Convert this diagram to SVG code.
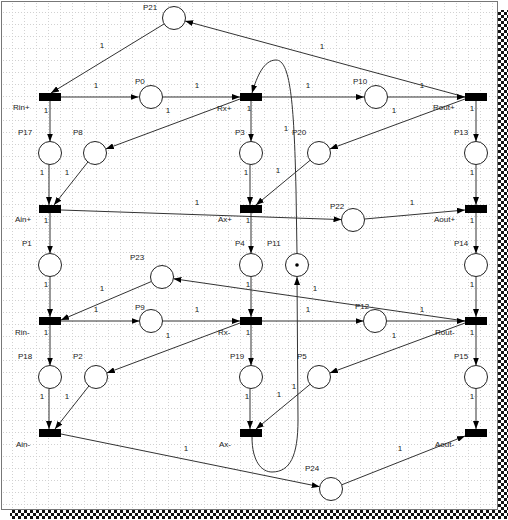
<svg xmlns="http://www.w3.org/2000/svg" width="508" height="520" viewBox="0 0 508 520">
<style>
.pl{fill:#fff;stroke:#222;stroke-width:1}
.tr{fill:#000}
.e{fill:none;stroke:#333;stroke-width:1;marker-end:url(#ah)}
.t{font-family:"Liberation Sans",Arial,sans-serif;font-size:8px;fill:#222}
.w{font-family:"Liberation Sans",Arial,sans-serif;font-size:8px;fill:#222;text-anchor:middle}
</style>
<defs>
<marker id="ah" viewBox="0 0 8 6" markerWidth="8" markerHeight="6" refX="8" refY="3" orient="auto" markerUnits="userSpaceOnUse">
<path d="M0,0 L8,3 L0,6 z" fill="#000"/>
</marker>
<pattern id="grid" width="12" height="12" patternUnits="userSpaceOnUse">
<path d="M0,0.5 H12 M0.5,0 V12" stroke="#bdbdbd" stroke-width="1" stroke-dasharray="1 2" fill="none"/>
</pattern>
<pattern id="chk" width="6" height="6" patternUnits="userSpaceOnUse">
<rect width="6" height="6" fill="#fff"/>
<rect x="0" y="0" width="3" height="3" fill="#111"/>
<rect x="3" y="3" width="3" height="3" fill="#111"/>
</pattern>
</defs>
<g id="background">
<rect x="0" y="0" width="508" height="520" fill="#fff"/>
<rect x="498" y="10" width="10" height="509" fill="url(#chk)"/>
<rect x="10" y="510" width="498" height="9" fill="url(#chk)"/>
<rect x="1.5" y="1.5" width="496" height="508" fill="#fff" stroke="#777" stroke-width="1"/>
<rect x="3" y="3" width="493" height="505" fill="url(#grid)" opacity="0.7"/>
</g>
<g id="connectors">
<line class="e" x1="164.2" y1="23.9" x2="51" y2="93"/>
<line class="e" x1="465" y1="97" x2="185.1" y2="21"/>
<line class="e" x1="61" y1="97" x2="138.5" y2="97"/>
<line class="e" x1="162.5" y1="97" x2="240" y2="97"/>
<line class="e" x1="240" y1="99" x2="105.8" y2="149"/>
<line class="e" x1="50" y1="101" x2="50" y2="141.5"/>
<line class="e" x1="49" y1="164.5" x2="49" y2="205"/>
<line class="e" x1="87.9" y1="162" x2="54" y2="205"/>
<line class="e" x1="262" y1="97" x2="364" y2="97"/>
<line class="e" x1="387.5" y1="97" x2="465" y2="97"/>
<line class="e" x1="465" y1="99" x2="329.8" y2="149"/>
<line class="e" x1="251" y1="101" x2="251" y2="141.5"/>
<line class="e" x1="250" y1="164.5" x2="250" y2="205"/>
<line class="e" x1="310.1" y1="160.3" x2="256" y2="205"/>
<line class="e" x1="476" y1="101" x2="476" y2="141.5"/>
<line class="e" x1="476" y1="164.5" x2="476" y2="205"/>
<path class="e" d="M297,253.5 L296,190 C294,100 290,60 276,60 C264,60 257,76 252,93"/>
<line class="e" x1="61" y1="210" x2="341.5" y2="219.6"/>
<line class="e" x1="364.5" y1="219" x2="465" y2="210"/>
<line class="e" x1="50" y1="213" x2="50" y2="253.5"/>
<line class="e" x1="50" y1="276.5" x2="50" y2="317"/>
<line class="e" x1="251" y1="213" x2="251" y2="253.5"/>
<line class="e" x1="251" y1="276.5" x2="251" y2="317"/>
<line class="e" x1="476" y1="213" x2="476" y2="253.5"/>
<line class="e" x1="476" y1="276.5" x2="476" y2="317"/>
<line class="e" x1="465" y1="321" x2="173.4" y2="278.7"/>
<line class="e" x1="151.4" y1="281.5" x2="61" y2="320"/>
<line class="e" x1="61" y1="321" x2="139.5" y2="321"/>
<line class="e" x1="162.5" y1="321" x2="240" y2="321"/>
<line class="e" x1="240" y1="323" x2="106.8" y2="373"/>
<line class="e" x1="262" y1="321" x2="363.5" y2="321"/>
<line class="e" x1="386.5" y1="321" x2="465" y2="321"/>
<line class="e" x1="465" y1="323" x2="329.8" y2="373"/>
<line class="e" x1="50" y1="325" x2="50" y2="365.5"/>
<line class="e" x1="251" y1="325" x2="251" y2="365.5"/>
<line class="e" x1="476" y1="325" x2="476" y2="365.5"/>
<line class="e" x1="49" y1="388.5" x2="49" y2="429"/>
<line class="e" x1="88.9" y1="386" x2="55" y2="429"/>
<line class="e" x1="250" y1="388.5" x2="250" y2="429"/>
<line class="e" x1="310.1" y1="384.3" x2="256" y2="429"/>
<line class="e" x1="476" y1="388.5" x2="476" y2="429"/>
<path class="e" d="M252,437 C252,462 262,472 272,472 C290,472 298,456 298,420 L297,277"/>
<line class="e" x1="61" y1="434" x2="319.7" y2="486.7"/>
<line class="e" x1="341.7" y1="484.8" x2="465" y2="436"/>
<g id="weights">
<text class="w" x="102" y="48">1</text>
<text class="w" x="322" y="49">1</text>
<text class="w" x="96" y="88">1</text>
<text class="w" x="197" y="88">1</text>
<text class="w" x="168" y="113">1</text>
<text class="w" x="46" y="113">1</text>
<text class="w" x="249" y="111">1</text>
<text class="w" x="42" y="175">1</text>
<text class="w" x="67" y="175">1</text>
<text class="w" x="308" y="88">1</text>
<text class="w" x="422" y="88">1</text>
<text class="w" x="394" y="113">1</text>
<text class="w" x="472" y="111">1</text>
<text class="w" x="472" y="175">1</text>
<text class="w" x="278" y="173">1</text>
<text class="w" x="246" y="175">1</text>
<text class="w" x="286" y="131">1</text>
<text class="w" x="197" y="205">1</text>
<text class="w" x="412" y="205">1</text>
<text class="w" x="46" y="223">1</text>
<text class="w" x="248" y="223">1</text>
<text class="w" x="472" y="223">1</text>
<text class="w" x="46" y="287">1</text>
<text class="w" x="248" y="287">1</text>
<text class="w" x="472" y="287">1</text>
<text class="w" x="315" y="291">1</text>
<text class="w" x="102" y="291">1</text>
<text class="w" x="96" y="312">1</text>
<text class="w" x="197" y="312">1</text>
<text class="w" x="168" y="338">1</text>
<text class="w" x="308" y="312">1</text>
<text class="w" x="422" y="312">1</text>
<text class="w" x="394" y="338">1</text>
<text class="w" x="46" y="335">1</text>
<text class="w" x="248" y="335">1</text>
<text class="w" x="472" y="335">1</text>
<text class="w" x="42" y="399">1</text>
<text class="w" x="67" y="399">1</text>
<text class="w" x="247" y="399">1</text>
<text class="w" x="279" y="397">1</text>
<text class="w" x="472" y="399">1</text>
<text class="w" x="294" y="389">1</text>
<text class="w" x="186" y="451">1</text>
<text class="w" x="400" y="451">1</text>
</g>
</g>
<g id="Rin_plus"><rect class="tr" x="39" y="93" width="22" height="8"/><text class="t" x="13" y="110">Rin+</text></g>
<g id="Rx_plus"><rect class="tr" x="240" y="93" width="22" height="8"/><text class="t" x="217" y="111">Rx+</text></g>
<g id="Rout_plus"><rect class="tr" x="465" y="93" width="22" height="8"/><text class="t" x="433" y="110">Rout+</text></g>
<g id="Ain_plus"><rect class="tr" x="39" y="205" width="22" height="8"/><text class="t" x="15" y="222">Ain+</text></g>
<g id="Ax_plus"><rect class="tr" x="240" y="205" width="22" height="8"/><text class="t" x="218" y="222">Ax+</text></g>
<g id="Aout_plus"><rect class="tr" x="465" y="205" width="22" height="8"/><text class="t" x="434" y="222">Aout+</text></g>
<g id="Rin_minus"><rect class="tr" x="39" y="317" width="22" height="8"/><text class="t" x="15" y="335">Rin-</text></g>
<g id="Rx_minus"><rect class="tr" x="240" y="317" width="22" height="8"/><text class="t" x="218" y="335">Rx-</text></g>
<g id="Rout_minus"><rect class="tr" x="465" y="317" width="22" height="8"/><text class="t" x="435" y="335">Rout-</text></g>
<g id="Ain_minus"><rect class="tr" x="39" y="429" width="22" height="8"/><text class="t" x="16" y="447">Ain-</text></g>
<g id="Ax_minus"><rect class="tr" x="240" y="429" width="22" height="8"/><text class="t" x="219" y="447">Ax-</text></g>
<g id="Aout_minus"><rect class="tr" x="465" y="429" width="22" height="8"/><text class="t" x="435" y="447">Aout-</text></g>
<g id="P21"><circle class="pl" cx="174" cy="18" r="11.5"/><text class="t" x="143" y="10">P21</text></g>
<g id="P0"><circle class="pl" cx="151" cy="97" r="11.5"/><text class="t" x="135" y="84">P0</text></g>
<g id="P10"><circle class="pl" cx="376" cy="97" r="11.5"/><text class="t" x="353" y="84">P10</text></g>
<g id="P17"><circle class="pl" cx="50" cy="153" r="11.5"/><text class="t" x="18" y="135">P17</text></g>
<g id="P8"><circle class="pl" cx="95" cy="153" r="11.5"/><text class="t" x="73" y="135">P8</text></g>
<g id="P3"><circle class="pl" cx="251" cy="153" r="11.5"/><text class="t" x="235" y="135">P3</text></g>
<g id="P20"><circle class="pl" cx="319" cy="153" r="11.5"/><text class="t" x="292" y="135">P20</text></g>
<g id="P13"><circle class="pl" cx="476" cy="153" r="11.5"/><text class="t" x="454" y="135">P13</text></g>
<g id="P22"><circle class="pl" cx="353" cy="220" r="11.5"/><text class="t" x="330" y="209">P22</text></g>
<g id="P1"><circle class="pl" cx="50" cy="265" r="11.5"/><text class="t" x="22" y="246">P1</text></g>
<g id="P4"><circle class="pl" cx="251" cy="265" r="11.5"/><text class="t" x="235" y="246">P4</text></g>
<g id="P11"><circle class="pl" cx="297" cy="265" r="11.5"/><circle cx="297" cy="265" r="1.8" fill="#000"/><text class="t" x="267" y="246">P11</text></g>
<g id="P14"><circle class="pl" cx="476" cy="265" r="11.5"/><text class="t" x="454" y="246">P14</text></g>
<g id="P23"><circle class="pl" cx="162" cy="277" r="11.5"/><text class="t" x="130" y="260">P23</text></g>
<g id="P9"><circle class="pl" cx="151" cy="321" r="11.5"/><text class="t" x="135" y="310">P9</text></g>
<g id="P12"><circle class="pl" cx="375" cy="321" r="11.5"/><text class="t" x="355" y="309">P12</text></g>
<g id="P18"><circle class="pl" cx="50" cy="377" r="11.5"/><text class="t" x="18" y="359">P18</text></g>
<g id="P2"><circle class="pl" cx="96" cy="377" r="11.5"/><text class="t" x="73" y="359">P2</text></g>
<g id="P19"><circle class="pl" cx="251" cy="377" r="11.5"/><text class="t" x="230" y="359">P19</text></g>
<g id="P5"><circle class="pl" cx="319" cy="377" r="11.5"/><text class="t" x="297" y="359">P5</text></g>
<g id="P15"><circle class="pl" cx="476" cy="377" r="11.5"/><text class="t" x="454" y="359">P15</text></g>
<g id="P24"><circle class="pl" cx="331" cy="489" r="11.5"/><text class="t" x="305" y="471">P24</text></g>
</svg>
